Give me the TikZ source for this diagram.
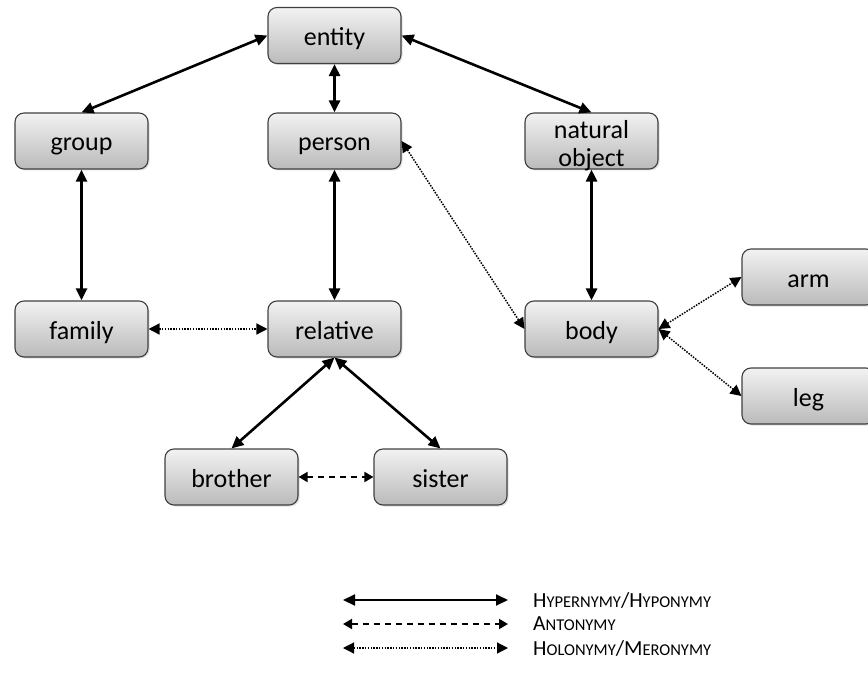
\documentclass[tikz,border=0pt]{standalone}
\usepackage{fontspec}
\setmainfont{Carlito}
\usetikzlibrary{arrows.meta,shadows}

% reduced capitals used for the legend's small-caps look
\newcommand\lsc[1]{{\fontsize{16.5}{20}\selectfont #1}}

\begin{document}
\begin{tikzpicture}[x=1pt,y=-1pt,
  concept/.style={draw=black!75, line width=1.1pt, rounded corners=9pt,
    top color=black!5, bottom color=black!27,
    minimum width=133pt, minimum height=56pt, inner sep=2pt,
    text height=22pt, text depth=2pt,
    align=center, font=\fontsize{26}{28}\selectfont,
    drop shadow={shadow xshift=1.5pt, shadow yshift=-1.5pt, opacity=0.25}},
  hyper/.style={line width=2.6pt, {Triangle[length=12pt,width=11pt]}-{Triangle[length=12pt,width=11pt]}},
  anto/.style={line width=1.8pt, dash pattern=on 6pt off 5pt, {Triangle[length=9pt,width=10pt]}-{Triangle[length=9pt,width=10pt]}},
  holo/.style={line width=1.5pt, dash pattern=on 1.5pt off 1.3pt, {Triangle[length=11pt,width=11pt]}-{Triangle[length=11pt,width=11pt]}},
  legtext/.style={anchor=west, font=\fontsize{21.5}{24}\selectfont, inner sep=0pt}]
\useasboundingbox (0,0) rectangle (868,682);

% concepts
\node[concept] (entity)  at (334.5,35.5) {entity};
\node[concept] (group)   at (81.5,141)   {group};
\node[concept] (person)  at (334.5,141)  {person};
\node[concept, text height=, text depth=] (natural) at (591.5,141)
  {\raisebox{-12pt}[0pt][0pt]{\begin{tabular}{@{}c@{}}natural\\object\end{tabular}}};
\node[concept] (family)  at (81.5,329)   {family};
\node[concept] (relative) at (334.5,329) {relative};
\node[concept] (body)    at (591.5,329)  {body};
\node[concept] (arm)     at (808.5,277)  {arm};
\node[concept] (leg)     at (808.5,396)  {leg};
\node[concept] (brother) at (231.5,477)  {brother};
\node[concept] (sister)  at (440.5,477)  {sister};

% hypernymy / hyponymy
\draw[hyper] (entity.west) -- (group.north);
\draw[hyper] (entity.east) -- (natural.north);
\draw[hyper] (entity.south) -- (person.north);
\draw[hyper] (group.south) -- (family.north);
\draw[hyper] (person.south) -- (relative.north);
\draw[hyper] (natural.south) -- (body.north);
\draw[hyper] (relative.south) -- (brother.north);
\draw[hyper] (relative.south) -- (sister.north);

% antonymy
\draw[anto] (brother.east) -- (sister.west);

% holonymy / meronymy
\draw[holo] (family.east) -- (relative.west);
\draw[holo] (person.east) -- (body.west);
\draw[holo] (body.east) -- (arm.west);
\draw[holo] (body.east) -- (leg.west);

% legend
\coordinate (h1) at (343,600); \coordinate (h2) at (508,600);
\coordinate (a1) at (343,624); \coordinate (a2) at (508,624);
\coordinate (m1) at (343,648); \coordinate (m2) at (508,648);
\draw[hyper, line width=2pt] (h1) -- (h2);
\draw[anto] (a1) -- (a2);
\draw[holo, line width=1.2pt] (m1) -- (m2);
\node[legtext] (lh) at (533,600) {H\lsc{YPERNYMY}/H\lsc{YPONYMY}};
\node[legtext] (la) at (533,624) {A\lsc{NTONYMY}};
\node[legtext] (lm) at (533,648) {H\lsc{OLONYMY}/M\lsc{ERONYMY}};
\end{tikzpicture}
\end{document}
